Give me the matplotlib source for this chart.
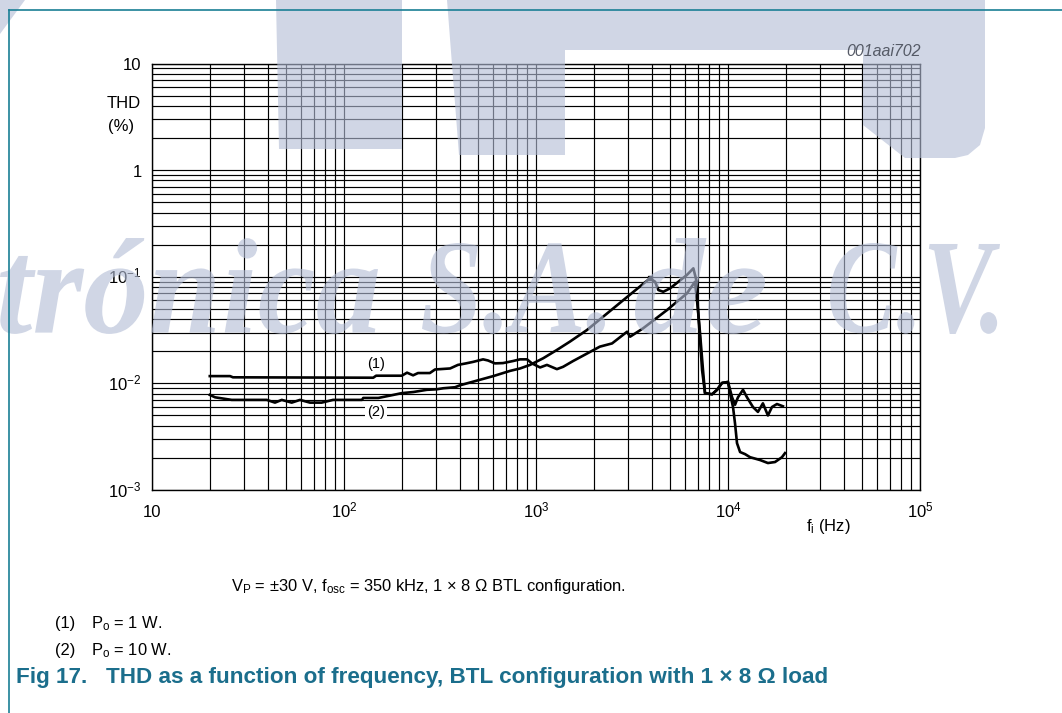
import numpy as np
import matplotlib
matplotlib.use("Agg")
import matplotlib.pyplot as plt
from matplotlib.font_manager import FontProperties
from matplotlib.lines import Line2D
from matplotlib.patches import Polygon, PathPatch
from matplotlib.path import Path
from matplotlib.textpath import TextPath

W, H = 1062, 713

# THD (%) versus frequency (Hz), curve (1): Po = 1 W
freq_1 = [20, 25.5, 26.4, 142, 147, 200, 213, 229, 243, 280,
          298, 357, 392, 432, 470, 530, 562, 611, 673, 759,
          826, 898, 953, 1050, 1140, 1285, 1384, 1560, 2150, 2490,
          2980, 3090, 3610, 4810, 6110, 6730, 6980, 7330, 7590, 8260,
          8770, 9310, 10000, 10500, 10880, 11270, 11970, 12560, 13490, 14320,
          15200, 16140, 16940, 17990, 19320]
thd_1 = [0.0117, 0.0117, 0.0114, 0.0113, 0.0118, 0.0118, 0.0126, 0.0119, 0.0125, 0.0125,
         0.0135, 0.0138, 0.0149, 0.0154, 0.0159, 0.0168, 0.0164, 0.0154, 0.0155, 0.0162,
         0.0168, 0.0168, 0.0154, 0.0141, 0.0149, 0.0136, 0.0143, 0.0162, 0.0221, 0.0237,
         0.0305, 0.0274, 0.0328, 0.0487, 0.0698, 0.0898, 0.0487, 0.0133, 0.0081, 0.0079,
         0.0087, 0.0101, 0.0103, 0.0074, 0.0063, 0.0074, 0.0087, 0.0074, 0.0060, 0.0054,
         0.0065, 0.0050, 0.0060, 0.0064, 0.0061]

# curve (2): Po = 10 W
freq_2 = [20, 21.3, 26, 39.6, 43.7, 47.4, 53.4, 59, 66.5, 76.5,
          87.7, 124, 126, 151, 181, 200, 230, 270, 304, 329,
          379, 402, 491, 599, 733, 826, 931, 1090, 1280, 1500,
          1840, 2850, 3920, 4170, 4340, 4600, 4990, 6100, 6600, 6900,
          6980, 7150, 7410, 7590, 8260, 8770, 9310, 10000, 10240, 10620,
          10880, 11140, 11560, 12270, 13030, 14690, 16140, 17580, 19100, 19820]
thd_2 = [0.0078, 0.0074, 0.0070, 0.0070, 0.0066, 0.0070, 0.0066, 0.0070, 0.0066, 0.0066,
         0.0070, 0.0070, 0.0073, 0.0073, 0.0078, 0.0081, 0.0083, 0.0087, 0.0088, 0.0090,
         0.0092, 0.0096, 0.0106, 0.0117, 0.0131, 0.0138, 0.0149, 0.0172, 0.0205, 0.0246,
         0.0316, 0.0604, 0.0966, 0.0898, 0.0750, 0.0723, 0.0778, 0.1037, 0.1199, 0.0873,
         0.0487, 0.0296, 0.0133, 0.0081, 0.0079, 0.0087, 0.0101, 0.0103, 0.0081, 0.0060,
         0.0042, 0.00275, 0.00227, 0.00217, 0.00203, 0.00191, 0.00179, 0.00183, 0.00203, 0.00222]
marker_freq = 3920  # measurement point marked on curve (2)

x_ticks = [10, 1e2, 1e3, 1e4, 1e5]
x_labels = ["10", "$10^{2}$", "$10^{3}$", "$10^{4}$", "$10^{5}$"]
y_ticks = [1e-3, 1e-2, 1e-1, 1, 10]
y_labels = ["$10^{-3}$", "$10^{-2}$", "$10^{-1}$", "1", "10"]

curve_labels = ["(1)", "(2)"]
label_pos = [(147, 0.0152), (147, 0.00538)]

TEAL = "#1a7f95"
TITLE_COL = "#1b6e8c"
WM_COL = (0.70, 0.74, 0.84)

plt.rcParams["font.family"] = ["Liberation Sans", "DejaVu Sans"]
plt.rcParams["mathtext.fontset"] = "custom"
plt.rcParams["mathtext.rm"] = "Liberation Sans"
plt.rcParams["mathtext.it"] = "Liberation Sans:italic"
plt.rcParams["mathtext.bf"] = "Liberation Sans:bold"


def fx(x):
    return x / W


def fy(y):
    return 1 - y / H


fig = plt.figure(figsize=(W / 100, H / 100), dpi=100)
ax = fig.add_axes([fx(152), fy(490), (920 - 152) / W, (490 - 63.5) / H])
ax.set_xscale("log")
ax.set_yscale("log")
ax.set_xlim(10, 1e5)
ax.set_ylim(1e-3, 10)
ax.grid(True, which="both", color="black", lw=0.85)
ax.tick_params(which="both", length=0, labelbottom=False, labelleft=False)
for sp in ax.spines.values():
    sp.set_color("black")
    sp.set_linewidth(1.0)

ax.plot(freq_1, thd_1, color="black", lw=1.9, solid_joinstyle="round", zorder=3)
ax.plot(freq_2, thd_2, color="black", lw=1.9, solid_joinstyle="round", zorder=3)
mi = freq_2.index(marker_freq)
ax.plot(freq_2[mi], thd_2[mi], marker="s", ms=3.5, color="black", zorder=4)

for (xv, yv), lab in zip(label_pos, curve_labels):
    ax.text(xv, yv, lab, fontsize=10.5, ha="center", va="center", zorder=5,
            bbox=dict(boxstyle="square,pad=0.15", fc="white", ec="none"))

for v, lab in zip(x_ticks, x_labels):
    ax.annotate(lab, xy=(v, 0), xycoords=("data", "axes fraction"),
                xytext=(0, -19.5), textcoords="offset points",
                ha="center", va="baseline", fontsize=12)
for v, lab in zip(y_ticks, y_labels):
    ax.annotate(lab, xy=(0, v), xycoords=("axes fraction", "data"),
                xytext=(-7.5, -5), textcoords="offset points",
                ha="right", va="baseline", fontsize=12)

fig.text(fx(124), fy(103), "THD", ha="center", va="center", fontsize=12)
fig.text(fx(121), fy(127), "(%)", ha="center", va="center", fontsize=12)
fig.text(fx(828), fy(527), r"$\mathregular{f_i}$ (Hz)", ha="center", va="center", fontsize=12)
fig.text(fx(921), fy(52), "001aai702", ha="right", va="center", fontsize=11.5,
         style="italic", color="#555a66")

# footnotes and caption
fig.text(fx(231), fy(591), r"$\mathregular{V_P}$ = ±30 V, $\mathregular{f_{osc}}$ = 350 kHz, 1 × 8 Ω BTL configuration.",
         fontsize=11.9, va="baseline")
fig.text(fx(55), fy(628), "(1)", fontsize=11.9, va="baseline")
fig.text(fx(91), fy(628), r"$\mathregular{P_o}$ = 1 W.", fontsize=11.9, va="baseline")
fig.text(fx(55), fy(655), "(2)", fontsize=11.9, va="baseline")
fig.text(fx(91), fy(655), r"$\mathregular{P_o}$ = 10 W.", fontsize=11.9, va="baseline")
fig.text(fx(16), fy(683), "Fig 17.   THD as a function of frequency, BTL configuration with 1 × 8 Ω load",
         fontsize=16.2, weight="bold", color=TITLE_COL, va="baseline")

# page frame
fig.add_artist(Line2D([fx(9), fx(9)], [fy(10), fy(713)], color=TEAL, lw=1.2, zorder=6))
fig.add_artist(Line2D([fx(9), 1.0], [fy(10), fy(10)], color=TEAL, lw=1.2, zorder=6))

# background logo blocks (drawn over the plot, semi transparent)
blocks = [
    [(0, 0), (25, 0), (0, 34)],
    [(276, 0), (402, 0), (402, 149), (279, 149)],
    [(447, 0), (985, 0), (985, 128), (980, 145), (968, 155), (955, 158),
     (905, 158), (863, 125), (863, 50), (565, 50), (565, 155), (459, 155)],
]
for pts in blocks:
    poly = Polygon([(fx(x), fy(y)) for x, y in pts], closed=True, transform=fig.transFigure,
                   fc=WM_COL, ec="none", alpha=0.62, zorder=2)
    fig.add_artist(poly)

wm_font = FontProperties(family="Liberation Serif", weight="bold", style="italic")
wm_words = [("trónica", 0, 378, 238), ("S.A.", 422, 605, 243),
            ("de", 635, 765, 238), ("C.V.", 830, 1000, 243)]
for word, x0, x1, ytop in wm_words:
    tp = TextPath((0, 0), word, size=100, prop=wm_font)
    bb = tp.get_extents()
    v = tp.vertices
    px = x0 + (v[:, 0] - bb.x0) / bb.width * (x1 - x0)
    py = 334 - (v[:, 1] - bb.y0) / bb.height * (334 - ytop)
    path = Path(np.column_stack([fx(px), fy(py)]), tp.codes)
    fig.add_artist(PathPatch(path, transform=fig.transFigure, fc=WM_COL, ec="none",
                             alpha=0.62, zorder=2))

fig.savefig("out.png", dpi=100, facecolor="white")
